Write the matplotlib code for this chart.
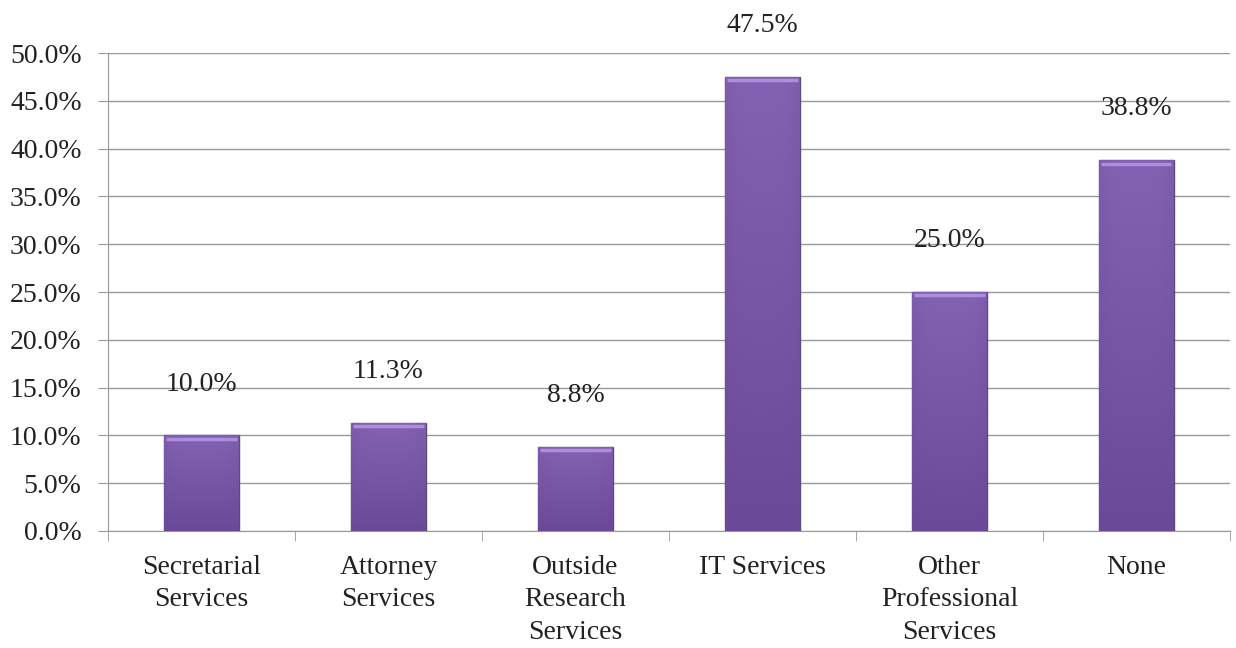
import matplotlib.pyplot as plt
import numpy as np

categories = ['Secretarial\nServices', 'Attorney\nServices', 'Outside\nResearch\nServices',
              'IT Services', 'Other\nProfessional\nServices', 'None']
values = [10.0, 11.3, 8.8, 47.5, 25.0, 38.8]
y_ticks = [0, 5, 10, 15, 20, 25, 30, 35, 40, 45, 50]

plt.rcParams['font.family'] = ['Liberation Serif', 'DejaVu Serif']

fig = plt.figure(figsize=(12.36, 6.48), dpi=100)
ax = fig.add_axes([0.0874, 0.1806, 0.9076, 0.7374])

x = np.arange(len(categories))
bars = ax.bar(x, values, width=0.4, color='#7b5aab', edgecolor='#5b4a7a', linewidth=1.0, zorder=3)

# vertical shading: lighter top, darker bottom, slightly darker sides
cmap = plt.matplotlib.colors.LinearSegmentedColormap.from_list('p', ['#6a4a98', '#8462b3'])
vert = np.linspace(0, 1, 60)[:, None]
horiz = 1 - 0.25 * (np.abs(np.linspace(-1, 1, 40)) ** 4)[None, :]
shade = vert * horiz
for b in bars:
    x0, w, h = b.get_x(), b.get_width(), b.get_height()
    im = ax.imshow(shade, cmap=cmap, extent=[x0, x0 + w, 0, h], origin='lower', aspect='auto',
                   zorder=3.5, interpolation='bicubic', vmin=0, vmax=1)
    im.set_clip_path(b)
    ax.plot([x0 + 0.012, x0 + w - 0.012], [h - 0.35, h - 0.35], color='#ad8de0', lw=2.5,
            zorder=4, solid_capstyle='butt')

for xi, v in zip(x, values):
    ax.annotate(f'{v:.1f}%', (xi, v), xytext=(0, 28), textcoords='offset points',
                ha='center', va='bottom', fontsize=20, color='#222222')

ax.set_xlim(-0.5, len(categories) - 0.5)
ax.set_ylim(0, 50)
ax.set_yticks(y_ticks)
ax.set_yticklabels([f'{t:.1f}%' for t in y_ticks], fontsize=20, color='#222222')
ax.set_xticks(x)
ax.set_xticklabels(categories, fontsize=20, color='#222222', linespacing=1.4, va='top')
ax.tick_params(axis='x', length=0, pad=17)
ax.set_xticks(np.arange(len(categories) + 1) - 0.5, minor=True)
ax.tick_params(axis='x', which='minor', length=7, color='#999999')
ax.tick_params(axis='y', length=7, color='#999999', pad=12)

ax.grid(axis='y', color='#999999', linewidth=1, zorder=0)
for side in ['top', 'right']:
    ax.spines[side].set_visible(False)
ax.spines['left'].set_color('#999999')
ax.spines['bottom'].set_color('#999999')

fig.savefig('out.png', dpi=100)
